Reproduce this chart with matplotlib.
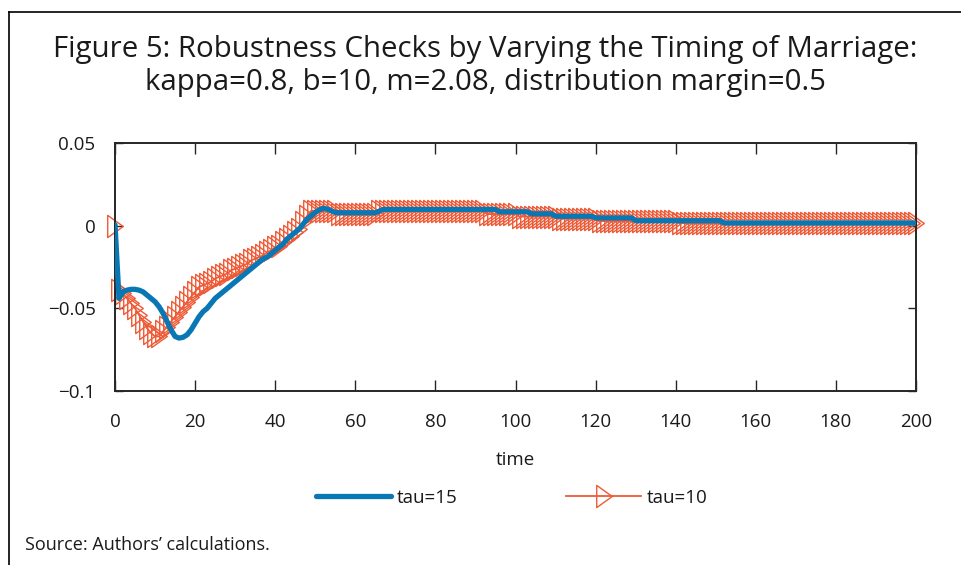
import matplotlib
matplotlib.use("Agg")
import matplotlib.pyplot as plt
from matplotlib.lines import Line2D
from matplotlib.path import Path
import numpy as np

plt.rcParams['font.family'] = ['Open Sans', 'DejaVu Sans']

title = "Figure 5: Robustness Checks by Varying the Timing of Marriage:\nkappa=0.8, b=10, m=2.08, distribution margin=0.5"
xlabel = "time"
source = "Source: Authors\u2019 calculations."
series_names = ["tau=15", "tau=10"]
x_ticks = [0, 20, 40, 60, 80, 100, 120, 140, 160, 180, 200]
y_ticks = [-0.1, -0.05, 0, 0.05]
y_tick_labels = ["\u22120.1", "\u22120.05", "0", "0.05"]

time = list(range(0, 201))

tau15 = [
    0.0005, -0.044, -0.040, -0.039, -0.0385, -0.0385, -0.039, -0.040, -0.042, -0.044,
    -0.046, -0.049, -0.053, -0.058, -0.063, -0.067, -0.068, -0.0675, -0.066, -0.063,
    -0.059, -0.055, -0.052, -0.050, -0.047, -0.044, -0.042, -0.040, -0.038, -0.036,
    -0.034, -0.032, -0.030, -0.028, -0.026, -0.024, -0.022, -0.020, -0.019, -0.017,
    -0.015, -0.013, -0.011, -0.008, -0.006, -0.004, -0.002, 0.001, 0.004, 0.006,
    0.008, 0.0095, 0.0105, 0.010, 0.009, 0.008, 0.0078, 0.0078, 0.0078, 0.0078,
    0.0078, 0.0078, 0.0078, 0.0078, 0.0078, 0.0078, 0.0088, 0.0098, 0.0098, 0.0098,
    0.0098, 0.0098, 0.0098, 0.0098, 0.0098, 0.0098, 0.0098, 0.0098, 0.0098, 0.0098,
    0.0098, 0.0098, 0.0098, 0.0098, 0.0098, 0.0098, 0.0098, 0.0098, 0.0098, 0.0098,
    0.0098, 0.0098, 0.0098, 0.0098, 0.0098, 0.0098, 0.0084, 0.0084, 0.0084, 0.0084,
    0.0084, 0.0084, 0.0084, 0.0084, 0.0072, 0.0072, 0.0072, 0.0072, 0.0072, 0.0072,
    0.0057, 0.0057, 0.0057, 0.0057, 0.0057, 0.0057, 0.0057, 0.0057, 0.0057, 0.0057,
    0.0047, 0.0047, 0.0047, 0.0047, 0.0047, 0.0047, 0.0047, 0.0047, 0.0047, 0.0047,
    0.0030, 0.0030, 0.0030, 0.0030, 0.0030, 0.0030, 0.0030, 0.0030, 0.0030, 0.0030,
    0.0030, 0.0030, 0.0030, 0.0030, 0.0030, 0.0030, 0.0030, 0.0030, 0.0030, 0.0030,
    0.0030, 0.0030, 0.0016, 0.0016, 0.0016, 0.0016, 0.0016, 0.0016, 0.0016, 0.0016,
    0.0016, 0.0016, 0.0016, 0.0016, 0.0016, 0.0016, 0.0016, 0.0016, 0.0016, 0.0016,
    0.0016, 0.0016, 0.0016, 0.0016, 0.0016, 0.0016, 0.0016, 0.0016, 0.0016, 0.0016,
    0.0016, 0.0016, 0.0016, 0.0016, 0.0016, 0.0016, 0.0016, 0.0016, 0.0016, 0.0016,
    0.0016, 0.0016, 0.0016, 0.0016, 0.0016, 0.0016, 0.0016, 0.0016, 0.0016, 0.0016,
    0.0016,
]

tau10 = [
    0.0000, -0.039, -0.041, -0.044, -0.047, -0.050, -0.054, -0.058, -0.062, -0.065,
    -0.067, -0.067, -0.064, -0.061, -0.058, -0.055, -0.052, -0.049, -0.046, -0.043,
    -0.040, -0.037, -0.036, -0.035, -0.034, -0.032, -0.031, -0.030, -0.029, -0.027,
    -0.026, -0.025, -0.024, -0.023, -0.021, -0.020, -0.019, -0.018, -0.016, -0.015,
    -0.013, -0.012, -0.010, -0.008, -0.006, -0.004, -0.002, 0.002, 0.006, 0.009,
    0.009, 0.009, 0.009, 0.009, 0.009, 0.009, 0.0068, 0.0068, 0.0068, 0.0068,
    0.0068, 0.0068, 0.0068, 0.0068, 0.0068, 0.0068, 0.0090, 0.0090, 0.0090, 0.0090,
    0.0090, 0.0090, 0.0090, 0.0090, 0.0090, 0.0090, 0.0090, 0.0090, 0.0090, 0.0090,
    0.0090, 0.0090, 0.0090, 0.0090, 0.0090, 0.0090, 0.0090, 0.0090, 0.0090, 0.0090,
    0.0090, 0.0090, 0.0090, 0.0070, 0.0070, 0.0070, 0.0070, 0.0070, 0.0070, 0.0070,
    0.0070, 0.0055, 0.0055, 0.0055, 0.0055, 0.0055, 0.0055, 0.0055, 0.0055, 0.0055,
    0.0055, 0.0042, 0.0042, 0.0042, 0.0042, 0.0042, 0.0042, 0.0042, 0.0042, 0.0042,
    0.0042, 0.0028, 0.0028, 0.0028, 0.0028, 0.0028, 0.0028, 0.0028, 0.0028, 0.0028,
    0.0028, 0.0028, 0.0028, 0.0028, 0.0028, 0.0028, 0.0028, 0.0028, 0.0028, 0.0028,
    0.0028, 0.0015, 0.0015, 0.0015, 0.0015, 0.0015, 0.0015, 0.0015, 0.0015, 0.0015,
    0.0015, 0.0015, 0.0015, 0.0015, 0.0015, 0.0015, 0.0015, 0.0015, 0.0015, 0.0015,
    0.0015, 0.0015, 0.0015, 0.0015, 0.0015, 0.0015, 0.0015, 0.0015, 0.0015, 0.0015,
    0.0015, 0.0015, 0.0015, 0.0015, 0.0015, 0.0015, 0.0015, 0.0015, 0.0015, 0.0015,
    0.0015, 0.0015, 0.0015, 0.0015, 0.0015, 0.0015, 0.0015, 0.0015, 0.0015, 0.0015,
    0.0015, 0.0015, 0.0015, 0.0015, 0.0015, 0.0015, 0.0015, 0.0015, 0.0015, 0.0015,
    0.0015,
]

BLUE = "#0A77B5"
ORANGE = "#EE5A36"
TEXT = "#1a1a1a"
AX = "#262626"

# tall right-pointing triangle marker (MATLAB style)
tri = Path([(-0.7, -1.0), (0.7, 0.0), (-0.7, 1.0), (-0.7, -1.0)],
           [Path.MOVETO, Path.LINETO, Path.LINETO, Path.CLOSEPOLY])

fig = plt.figure(figsize=(9.61, 5.65), dpi=100)
ax = fig.add_axes([115/961, 1-391/565, (916-115)/961, (391-143)/565])

ax.plot(time, tau10, color=ORANGE, lw=1.3, marker=tri, markersize=16,
        markerfacecolor="none", markeredgecolor=ORANGE, markeredgewidth=1.0,
        label=series_names[1], zorder=2, clip_on=False)
ax.plot(time, tau15, color=BLUE, lw=3.8, solid_capstyle="round",
        label=series_names[0], zorder=3)

ax.set_xlim(0, 200)
ax.set_ylim(-0.1, 0.05)
ax.set_xticks(x_ticks)
ax.set_xticklabels([str(v) for v in x_ticks])
ax.set_yticks(y_ticks)
ax.set_yticklabels(y_tick_labels)
ax.tick_params(axis="both", direction="in", top=True, right=True,
               colors=AX, labelcolor=TEXT, labelsize=13.5, width=1.0)
ax.tick_params(axis="x", length=8, pad=16)
ax.tick_params(axis="y", length=6, pad=14)
for s in ax.spines.values():
    s.set_color(AX)
    s.set_linewidth(1.4)

ax.set_xlabel(xlabel, fontsize=13.5, color=TEXT, labelpad=14)

fig.text(0.505, 1-66/565, title, ha="center", va="center", fontsize=21.2,
         color=TEXT, linespacing=1.22)

h15 = Line2D([], [], color=BLUE, lw=3.8, solid_capstyle="round")
h10 = Line2D([], [], color=ORANGE, lw=1.3, marker=tri, markersize=16,
             markerfacecolor="none", markeredgecolor=ORANGE, markeredgewidth=1.0)
fig.legend([h15, h10], series_names, loc="center", ncol=2,
           bbox_to_anchor=(512/961, 1-498/565), frameon=False, fontsize=13.5,
           handlelength=4.0, columnspacing=5.8, handletextpad=0.3,
           labelcolor=TEXT)

fig.text(25/961, 1-545/565, source, ha="left", va="center", fontsize=13,
         color=TEXT)

# figure border (left and top)
fig.add_artist(Line2D([9/961, 9/961], [0, 1-12/565], transform=fig.transFigure,
                      color="black", lw=1.2))
fig.add_artist(Line2D([9/961, 1], [1-12/565, 1-12/565], transform=fig.transFigure,
                      color="black", lw=1.2))

fig.savefig("out.png", dpi=100)
